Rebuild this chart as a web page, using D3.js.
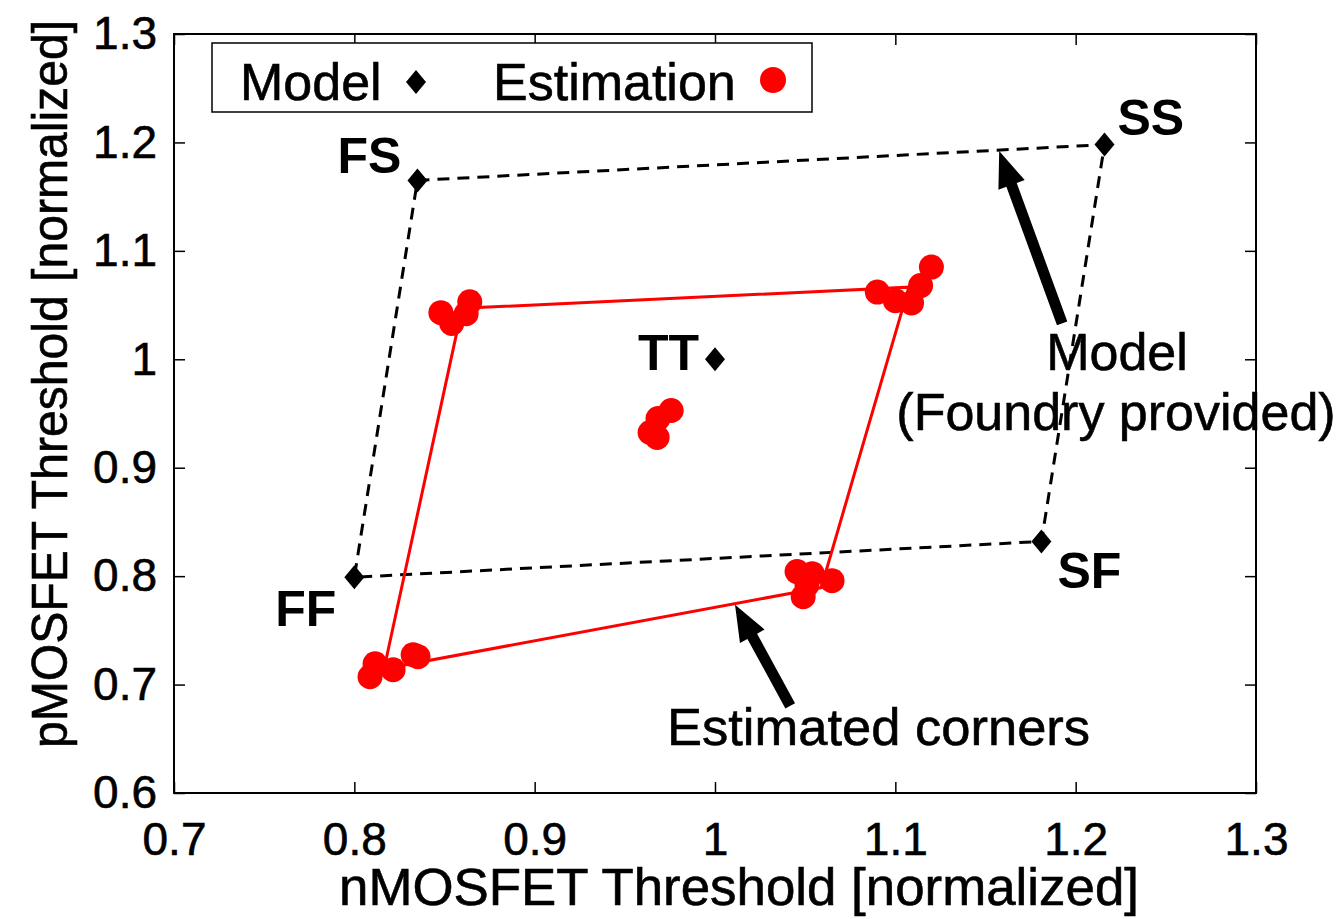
<!DOCTYPE html>
<html>
<head>
<meta charset="utf-8">
<script src="https://cdn.jsdelivr.net/npm/d3@7"></script>
<style>
  body { margin: 0; background: #fff; }
  svg text { font-family: "Liberation Sans", Arial, sans-serif; fill: #000; }
  svg text.heavy { stroke: #000; stroke-width: 0.6px; }
</style>
</head>
<body>
<div id="chart"></div>
<script>
// model corners (foundry provided)
var modelLabels = ["FS", "SS", "SF", "FF", "TT"];
var modelN = [0.835, 1.216, 1.181, 0.800, 1.000];
var modelP = [1.165, 1.198, 0.832, 0.799, 1.000];

// estimated points
var estN = [0.848, 0.854, 0.864, 0.862,
            1.090, 1.100, 1.109, 1.114, 1.120,
            0.9757, 0.9684, 0.964, 0.9679,
            1.0455, 1.0539, 1.0649, 1.0489, 1.051,
            0.8115, 0.8087, 0.8215, 0.8326, 0.8353];
var estP = [1.043, 1.033, 1.053, 1.042,
            1.062, 1.054, 1.052, 1.068, 1.085,
            0.9528, 0.9454, 0.9325, 0.9279,
            0.8042, 0.8023, 0.7958, 0.7811, 0.792,
            0.7192, 0.7072, 0.7137, 0.7275, 0.7257];

// estimated corner polygon (TL, TR, BR, BL)
var fitN = [0.8597, 1.1075, 1.0589, 0.8165];
var fitP = [1.047, 1.0665, 0.7894, 0.7146];

var xTicks = [0.7, 0.8, 0.9, 1.0, 1.1, 1.2, 1.3];
var yTicks = [0.6, 0.7, 0.8, 0.9, 1.0, 1.1, 1.2, 1.3];

// annotation arrows [tailN, tailP, tipN, tipP]
var arrowModel = [1.1925, 1.0332, 1.1576, 1.192];
var arrowEst = [1.0417, 0.6804, 1.0111, 0.7737];

var W = 1339, H = 919;
var margin = {top: 34, right: 83, bottom: 126, left: 174};
var w = W - margin.left - margin.right;
var h = H - margin.top - margin.bottom;

var svg = d3.select("#chart").append("svg")
    .attr("width", W)
    .attr("height", H);

var g = svg.append("g")
    .attr("transform", "translate(" + margin.left + "," + margin.top + ")");

var x = d3.scaleLinear().domain([0.7, 1.3]).range([0, w]);
var y = d3.scaleLinear().domain([0.6, 1.3]).range([h, 0]);

var fmt = function(d){ return String(+d.toFixed(1)); };

// axes, ticks inward like matlab
g.append("g").attr("transform", "translate(0," + h + ")")
    .call(d3.axisBottom(x).tickValues(xTicks).tickSize(-11).tickPadding(29).tickFormat(fmt));
g.append("g")
    .call(d3.axisTop(x).tickValues(xTicks).tickSize(-11).tickFormat(""));
g.append("g")
    .call(d3.axisLeft(y).tickValues(yTicks).tickSize(-11).tickPadding(17).tickFormat(fmt));
g.append("g").attr("transform", "translate(" + w + ",0)")
    .call(d3.axisRight(y).tickValues(yTicks).tickSize(-11).tickFormat(""));

g.selectAll(".domain").remove();
g.selectAll(".tick line").attr("stroke", "#000").attr("stroke-width", 1.5);
g.selectAll(".tick text")
    .attr("class", "heavy")
    .style("font-size", "46px")
    .attr("fill", "#000");

g.append("rect")
    .attr("width", w).attr("height", h)
    .attr("fill", "none").attr("stroke", "#000").attr("stroke-width", 2);

// dashed model polygon
var modelPoly = [0, 1, 2, 3, 0].map(function(i){ return [x(modelN[i]), y(modelP[i])]; });
g.append("path")
    .attr("d", d3.line()(modelPoly))
    .attr("fill", "none").attr("stroke", "#000")
    .attr("stroke-width", 3).attr("stroke-dasharray", "12,8");

// red fitted polygon
var fitPoly = [0, 1, 2, 3, 0].map(function(i){ return [x(fitN[i]), y(fitP[i])]; });
g.append("path")
    .attr("d", d3.line()(fitPoly))
    .attr("fill", "none").attr("stroke", "#ff0000").attr("stroke-width", 3);

// estimation circles
g.selectAll("circle.est").data(d3.range(estN.length)).enter().append("circle")
    .attr("class", "est")
    .attr("cx", function(i){ return x(estN[i]); })
    .attr("cy", function(i){ return y(estP[i]); })
    .attr("r", 12.5)
    .attr("fill", "#ff0000");

// model diamonds
function diamond(cx, cy, a, b) {
    return "M" + cx + "," + (cy - b) + "L" + (cx + a) + "," + cy +
        "L" + cx + "," + (cy + b) + "L" + (cx - a) + "," + cy + "Z";
}
g.selectAll("path.model").data(d3.range(modelN.length)).enter().append("path")
    .attr("class", "model")
    .attr("d", function(i){ return diamond(x(modelN[i]), y(modelP[i]), 10, 12); })
    .attr("fill", "#000");

// corner labels
var labelOffsets = {
    FS: {dx: -16, dy: -7, anchor: "end"},
    SS: {dx: 13, dy: -10, anchor: "start"},
    SF: {dx: 16, dy: 47, anchor: "start"},
    FF: {dx: -18, dy: 49, anchor: "end"},
    TT: {dx: -16, dy: 11, anchor: "end"}
};
modelLabels.forEach(function(lab, i){
    var o = labelOffsets[lab];
    g.append("text")
        .attr("x", x(modelN[i]) + o.dx)
        .attr("y", y(modelP[i]) + o.dy)
        .attr("text-anchor", o.anchor)
        .style("font-size", "50px")
        .style("font-weight", "bold")
        .text(lab);
});

// arrows
function drawArrow(a) {
    var x0 = x(a[0]), y0 = y(a[1]), x1 = x(a[2]), y1 = y(a[3]);
    var dx = x1 - x0, dy = y1 - y0, len = Math.sqrt(dx * dx + dy * dy);
    var ux = dx / len, uy = dy / len, px = -uy, py = ux;
    var headL = 36, headW = 14, shaftW = 5.5;
    var bx = x1 - ux * headL, by = y1 - uy * headL;
    var pts = [
        [x0 + px * shaftW, y0 + py * shaftW],
        [bx + px * shaftW, by + py * shaftW],
        [bx + px * headW, by + py * headW],
        [x1, y1],
        [bx - px * headW, by - py * headW],
        [bx - px * shaftW, by - py * shaftW],
        [x0 - px * shaftW, y0 - py * shaftW]
    ];
    g.append("path").attr("d", d3.line()(pts) + "Z").attr("fill", "#000");
}
drawArrow(arrowModel);
drawArrow(arrowEst);

// annotation text
svg.append("text").attr("class", "heavy").attr("x", 1117).attr("y", 370).attr("text-anchor", "middle")
    .style("font-size", "52px").text("Model");
svg.append("text").attr("class", "heavy").attr("x", 1116).attr("y", 430).attr("text-anchor", "middle")
    .style("font-size", "52px").text("(Foundry provided)");
svg.append("text").attr("class", "heavy").attr("x", 667).attr("y", 745)
    .style("font-size", "52.5px").text("Estimated corners");

// axis titles
svg.append("text").attr("class", "heavy")
    .attr("x", 739).attr("y", 905)
    .attr("text-anchor", "middle")
    .style("font-size", "51px")
    .attr("textLength", 800).attr("lengthAdjust", "spacingAndGlyphs")
    .text("nMOSFET Threshold [normalized]");
svg.append("text").attr("class", "heavy")
    .attr("transform", "translate(67,384) rotate(-90)")
    .attr("text-anchor", "middle")
    .style("font-size", "50px")
    .attr("textLength", 728).attr("lengthAdjust", "spacingAndGlyphs")
    .text("pMOSFET Threshold [normalized]");

// legend
var leg = svg.append("g");
leg.append("rect").attr("x", 212).attr("y", 43).attr("width", 600).attr("height", 69)
    .attr("fill", "#fff").attr("stroke", "#000").attr("stroke-width", 1.5);
leg.append("text").attr("class", "heavy").attr("x", 240).attr("y", 100).style("font-size", "52px").text("Model");
leg.append("path").attr("d", diamond(416, 82, 10, 12)).attr("fill", "#000");
leg.append("text").attr("class", "heavy").attr("x", 493).attr("y", 100).style("font-size", "52px").text("Estimation");
leg.append("circle").attr("cx", 773).attr("cy", 80).attr("r", 13).attr("fill", "#ff0000");
</script>
</body>
</html>
